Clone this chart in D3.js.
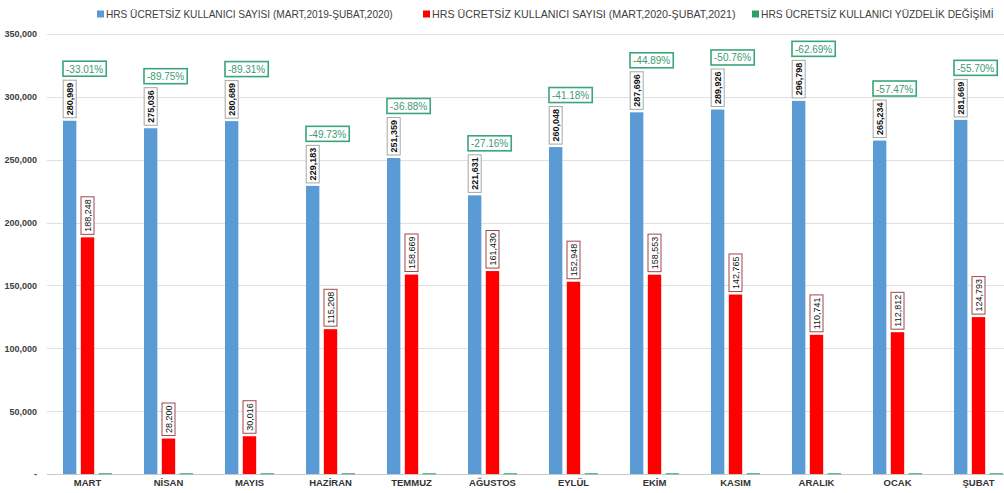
<!DOCTYPE html>
<html><head><meta charset="utf-8">
<script src="https://cdn.jsdelivr.net/npm/d3@7"></script>
<style>
html,body{margin:0;padding:0;background:#fff;overflow:hidden}
svg{display:block}
</style></head>
<body>
<svg id="chart" width="1004" height="493"></svg>
<script>
const categories = ["MART","NİSAN","MAYIS","HAZİRAN","TEMMUZ","AĞUSTOS","EYLÜL","EKİM","KASIM","ARALIK","OCAK","ŞUBAT"];
const seriesNames = ["HRS ÜCRETSİZ KULLANICI SAYISI (MART,2019-ŞUBAT,2020)","HRS ÜCRETSİZ KULLANICI SAYISI (MART,2020-ŞUBAT,2021)","HRS ÜCRETSİZ KULLANICI YÜZDELİK DEĞİŞİMİ"];
const users2019 = [280989,275036,280689,229183,251359,221631,260048,287696,289926,296798,265234,281669];
const users2020 = [188248,28200,30016,115208,158669,161430,152948,158553,142765,110741,112812,124793];
const pctChange = [-33.01,-89.75,-89.31,-49.73,-36.88,-27.16,-41.18,-44.89,-50.76,-62.69,-57.47,-55.70];
const yTicks = [0,50000,100000,150000,200000,250000,300000,350000];

const colors = ["#5b9bd5","#ff0000","#2e9e6b"];
const font = "'Liberation Sans', Arial, sans-serif";
const svg = d3.select("#chart");
const fmtInt = d3.format(",");
const fmtPct = v => d3.format(".2f")(v).replace("\u2212","-") + "%";

const y = d3.scaleLinear().domain([0,350000]).range([474,34]);
const x0 = d3.scaleBand().domain(categories).range([47,1019]).paddingInner(0.395).paddingOuter(0.1975);
const x1 = d3.scaleBand().domain([0,1,2]).range([0,x0.bandwidth()]).paddingInner(0.25);

// gridlines
svg.append("g").selectAll("line").data(yTicks).join("line")
  .attr("x1",47).attr("x2",1004)
  .attr("y1",d=>Math.round(y(d))+0.5).attr("y2",d=>Math.round(y(d))+0.5)
  .attr("stroke",d=>d===0?"#c8c8c8":"#e0e0e0").attr("stroke-width",1);

// y axis labels
const yAxis = d3.axisLeft(y).tickValues(yTicks).tickSize(0).tickPadding(0)
  .tickFormat(d=>d===0?"-":fmtInt(d));
const yg = svg.append("g").attr("transform","translate(37,0)").call(yAxis);
yg.select(".domain").remove();
yg.selectAll("text").attr("font-family",font).attr("font-size",9).attr("font-weight","bold").attr("fill","#404040");

// x axis labels
const xAxis = d3.axisBottom(x0).tickSize(0).tickPadding(0);
const xg = svg.append("g").attr("transform","translate(0,479)").call(xAxis);
xg.select(".domain").remove();
xg.selectAll("text").attr("font-family",font).attr("font-size",9.5).attr("font-weight","bold").attr("fill","#333").attr("dy","0.75em");

const groups = svg.append("g").selectAll("g").data(categories).join("g")
  .attr("transform",d=>`translate(${x0(d)},0)`);

// blue bars
groups.append("rect").attr("x",x1(0)).attr("width",x1.bandwidth())
  .attr("y",(d,i)=>y(users2019[i])).attr("height",(d,i)=>y(0)-y(users2019[i])).attr("fill",colors[0]);
// red bars
groups.append("rect").attr("x",x1(1)).attr("width",x1.bandwidth())
  .attr("y",(d,i)=>y(users2020[i])).attr("height",(d,i)=>y(0)-y(users2020[i])).attr("fill",colors[1]);
// green bars (percent on same axis -> essentially zero height)
groups.append("rect").attr("x",x1(2)).attr("width",x1.bandwidth())
  .attr("y",(d,i)=>y(0)-1).attr("height",(d,i)=>Math.max(1.5,Math.abs(y(pctChange[i])-y(0))))
  .attr("fill","#6fb59a");

// vertical value labels
function vLabel(g, xc, top, txt, bold, stroke){
  const t = g.append("text").text(txt).attr("font-family",font).attr("font-size",9)
    .attr("font-weight",bold?"bold":"normal").attr("fill","#111")
    .attr("text-anchor","middle").attr("dominant-baseline","central");
  const w = t.node().getComputedTextLength();
  const h = w + 5, bw = 13;
  const cy = top - 3 - h/2;
  t.attr("transform",`translate(${xc},${cy}) rotate(-90)`);
  g.insert("rect","text:last-child").attr("x",xc-bw/2).attr("y",cy-h/2).attr("width",bw).attr("height",h)
    .attr("fill","#fff").attr("stroke",stroke).attr("stroke-width",1);
  t.raise();
  return cy - h/2;
}

groups.each(function(d,i){
  const g = d3.select(this);
  const xb = x1(0)+x1.bandwidth()/2;
  const topBlue = vLabel(g, xb, y(users2019[i]), fmtInt(users2019[i]), true, "#a6a6a6");
  vLabel(g, x1(1)+x1.bandwidth()/2, y(users2020[i]), fmtInt(users2020[i]), false, "#a04848");
  // pct label
  const t = g.append("text").text(fmtPct(pctChange[i]))
    .attr("font-family",font).attr("font-size",10).attr("fill","#3d9a72").attr("dominant-baseline","central");
  const w = t.node().getComputedTextLength();
  const bx = x1(0), bh = 15, by = topBlue - 4 - bh;
  t.attr("x",bx+3).attr("y",by+bh/2+0.5);
  g.insert("rect","text:last-child").attr("x",bx).attr("y",by).attr("width",w+6).attr("height",bh)
    .attr("fill","#fff").attr("stroke","#3aa57a").attr("stroke-width",1.6);
  t.raise();
});

// legend
const legendX = [97,423,752];
const legendW = [287,304,233];
const legend = svg.append("g").selectAll("g").data(seriesNames).join("g")
  .attr("transform",(d,i)=>`translate(${legendX[i]},0)`);
legend.append("rect").attr("x",0).attr("y",10.5).attr("width",7).attr("height",7).attr("fill",(d,i)=>colors[i]);
legend.append("text").text(d=>d).attr("x",9).attr("y",18)
  .attr("font-family",font).attr("font-size",12).attr("fill","#404040")
  .each(function(d,i){
    const w = this.getComputedTextLength();
    d3.select(this).attr("font-size", Math.min(12, 12*legendW[i]/w));
  });
</script>
</body></html>
